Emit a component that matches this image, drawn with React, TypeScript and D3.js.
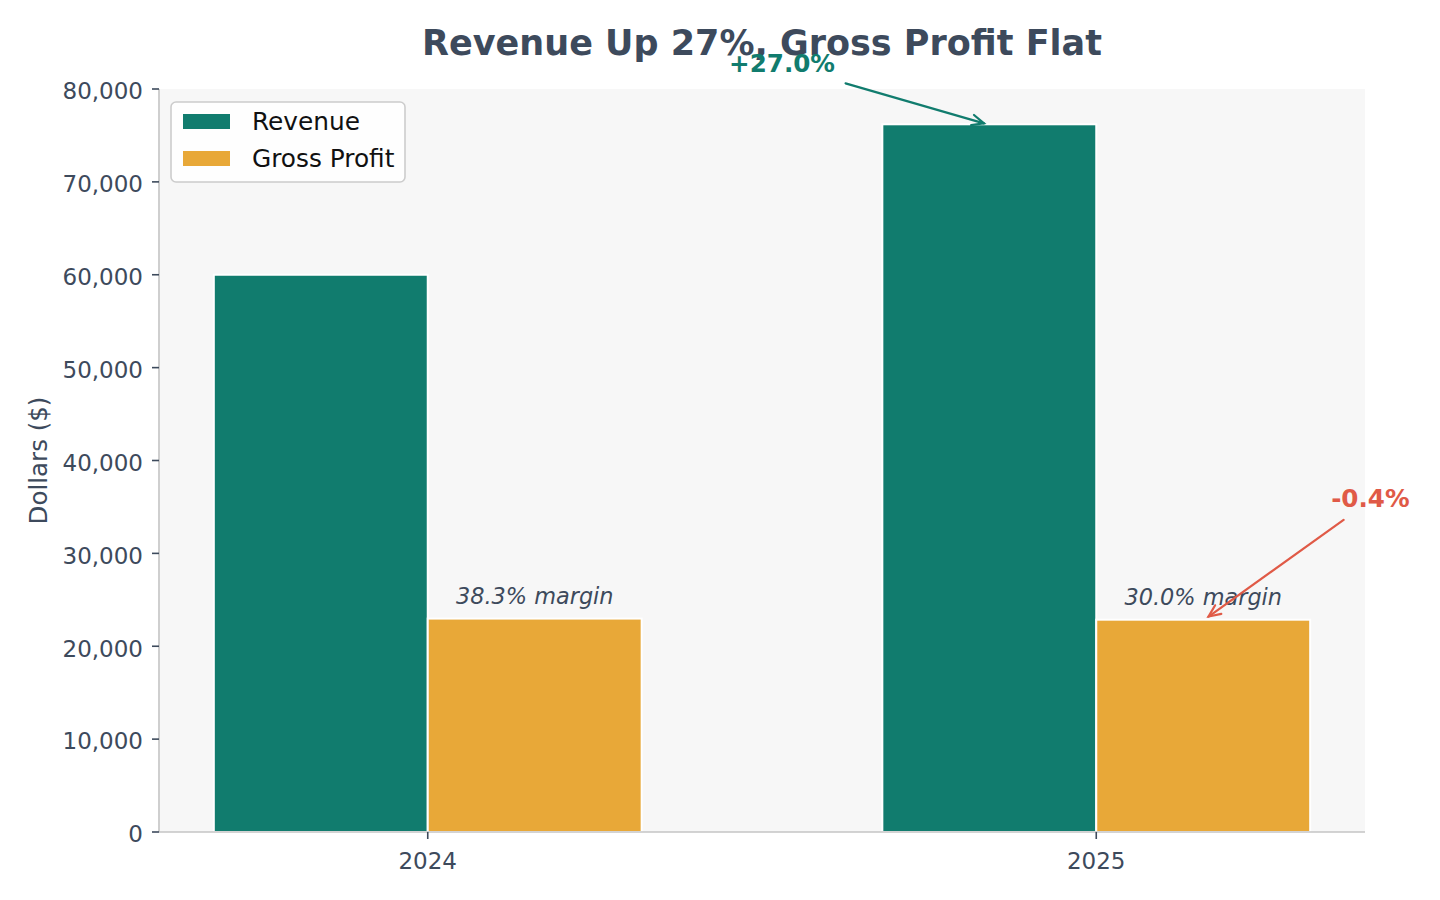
import React from "react";
import * as d3 from "d3";

const years = ["2024", "2025"];
const revenue = [60000, 76200];
const grossProfit = [22980, 22860];
const marginLabels = ["38.3% margin", "30.0% margin"];
const yTicks = [0, 10000, 20000, 30000, 40000, 50000, 60000, 70000, 80000];

// annotations in data units (x: category index, y: dollars)
const revAnno = { text: "+27.0%", tx: 0.53, ty: 81830, ax: 0.625, ay: 80600, px: 0.832, py: 76300 };
const gpAnno = { text: "-0.4%", tx: 1.41, ty: 35000, ax: 1.37, ay: 33600, px: 1.168, py: 23200 };

const TEAL = "#117c6e";
const ORANGE = "#e8a838";
const RED = "#e05a47";
const INK = "#3d4a5c";
const FONT = "DejaVu Sans, sans-serif";

const margin = { top: 89, right: 75, bottom: 68, left: 159 };
const W = 1440;
const H = 900;

const Arrow = ({ x1, y1, x2, y2, color }) => {
  const ang = Math.atan2(y2 - y1, x2 - x1);
  const len = 13;
  const spread = 0.42;
  const h1 = [x2 - len * Math.cos(ang - spread), y2 - len * Math.sin(ang - spread)];
  const h2 = [x2 - len * Math.cos(ang + spread), y2 - len * Math.sin(ang + spread)];
  return (
    <g stroke={color} strokeWidth={2.2} fill="none" strokeLinecap="round">
      <line x1={x1} y1={y1} x2={x2} y2={y2} />
      <polyline points={`${h1[0]},${h1[1]} ${x2},${y2} ${h2[0]},${h2[1]}`} />
    </g>
  );
};

export default function App() {
  const x = d3.scaleLinear().domain([-0.402, 1.402]).range([margin.left, W - margin.right]);
  const y = d3.scaleLinear().domain([0, 80000]).range([H - margin.bottom, margin.top]);
  const bw = 0.32;
  const fmt = d3.format(",");
  const x0 = margin.left;
  const x1 = W - margin.right;
  const y0 = H - margin.bottom;

  return (
    <svg width={W} height={H} style={{ display: "block", position: "absolute", left: 0, top: 0 }} fontFamily={FONT}>
      <rect width={W} height={H} fill="#fff" />
      <rect x={x0} y={margin.top} width={x1 - x0} height={y0 - margin.top} fill="#f7f7f7" />

      {years.map((yr, i) => (
        <g key={yr}>
          <rect
            x={x(i - bw)}
            y={y(revenue[i])}
            width={x(i) - x(i - bw)}
            height={y(0) - y(revenue[i])}
            fill={TEAL}
            stroke="#fff"
            strokeWidth={2}
          />
          <rect
            x={x(i)}
            y={y(grossProfit[i])}
            width={x(i + bw) - x(i)}
            height={y(0) - y(grossProfit[i])}
            fill={ORANGE}
            stroke="#fff"
            strokeWidth={2}
          />
          <text
            x={x(i + bw / 2)}
            y={y(grossProfit[i] + 1000) - 5}
            textAnchor="middle"
            fontSize={22.4}
            fontStyle="italic"
            fill={INK}
          >
            {marginLabels[i]}
          </text>
        </g>
      ))}

      {/* spines */}
      <line x1={x0} y1={margin.top} x2={x0} y2={y0} stroke="#c4c4c4" strokeWidth={1.6} />
      <line x1={x0} y1={y0} x2={x1} y2={y0} stroke="#c4c4c4" strokeWidth={1.6} />

      {/* y axis */}
      {yTicks.map((t) => (
        <g key={t}>
          <line x1={x0 - 7} x2={x0} y1={y(t)} y2={y(t)} stroke={INK} strokeWidth={1.6} />
          <text x={x0 - 16} y={y(t) + 2} dy="0.36em" textAnchor="end" fontSize={23} fill={INK}>
            {fmt(t)}
          </text>
        </g>
      ))}
      <text
        transform={`translate(47,${(margin.top + y0) / 2}) rotate(-90)`}
        textAnchor="middle"
        fontSize={24.5}
        fill={INK}
      >
        Dollars ($)
      </text>

      {/* x axis */}
      {years.map((yr, i) => (
        <g key={yr}>
          <line x1={x(i)} x2={x(i)} y1={y0} y2={y0 + 7} stroke={INK} strokeWidth={1.6} />
          <text x={x(i)} y={y0 + 37} textAnchor="middle" fontSize={23} fill={INK}>
            {yr}
          </text>
        </g>
      ))}

      {/* title */}
      <text x={(x0 + x1) / 2} y={55} textAnchor="middle" fontSize={35} fontWeight="bold" fill={INK}>
        Revenue Up 27%, Gross Profit Flat
      </text>

      {/* annotations */}
      {[
        { a: revAnno, c: TEAL },
        { a: gpAnno, c: RED },
      ].map(({ a, c }) => (
        <g key={a.text}>
          <Arrow x1={x(a.ax)} y1={y(a.ay)} x2={x(a.px)} y2={y(a.py)} color={c} />
          <text x={x(a.tx)} y={y(a.ty)} textAnchor="middle" fontSize={24.6} fontWeight="bold" fill={c}>
            {a.text}
          </text>
        </g>
      ))}

      {/* legend */}
      <g>
        <rect x={171} y={102} width={234} height={80} rx={5} fill="#fff" fillOpacity={0.85} stroke="#cccccc" strokeWidth={1.6} />
        {[
          { name: "Revenue", color: TEAL, yy: 114 },
          { name: "Gross Profit", color: ORANGE, yy: 151 },
        ].map((d) => (
          <g key={d.name}>
            <rect x={183} y={d.yy} width={47} height={15} fill={d.color} />
            <text x={252} y={d.yy + 16} fontSize={24.8} fill="#111">
              {d.name}
            </text>
          </g>
        ))}
      </g>
    </svg>
  );
}
